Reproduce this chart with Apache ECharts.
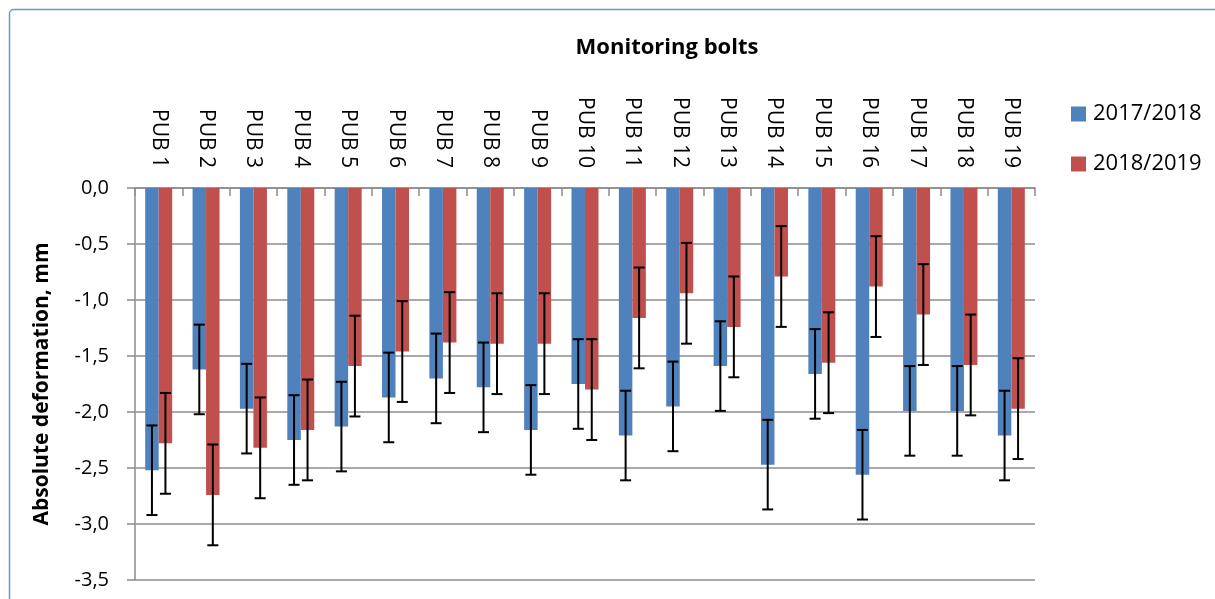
<!DOCTYPE html>
<html>
<head>
<meta charset="utf-8">
<script src="https://cdn.jsdelivr.net/npm/echarts@6/dist/echarts.min.js"></script>
<style>
html,body{margin:0;padding:0;background:#fff;}
#chart{width:1215px;height:599px;}
</style>
</head>
<body>
<div id="chart"></div>
<script>
var categories = ['PUB 1','PUB 2','PUB 3','PUB 4','PUB 5','PUB 6','PUB 7','PUB 8','PUB 9','PUB 10','PUB 11','PUB 12','PUB 13','PUB 14','PUB 15','PUB 16','PUB 17','PUB 18','PUB 19'];
var seriesNames = ['2017/2018', '2018/2019'];
var values2017 = [-2.52, -1.62, -1.97, -2.25, -2.13, -1.87, -1.70, -1.78, -2.16, -1.75, -2.21, -1.95, -1.59, -2.47, -1.66, -2.56, -1.99, -1.99, -2.21];
var values2018 = [-2.28, -2.74, -2.32, -2.16, -1.59, -1.46, -1.38, -1.39, -1.39, -1.80, -1.16, -0.94, -1.24, -0.79, -1.56, -0.88, -1.13, -1.58, -1.97];
var err2017 = [0.40, 0.40, 0.40, 0.40, 0.40, 0.40, 0.40, 0.40, 0.40, 0.40, 0.40, 0.40, 0.40, 0.40, 0.40, 0.40, 0.40, 0.40, 0.40];
var err2018 = [0.45, 0.45, 0.45, 0.45, 0.45, 0.45, 0.45, 0.45, 0.45, 0.45, 0.45, 0.45, 0.45, 0.45, 0.45, 0.45, 0.45, 0.45, 0.45];
var yTicks = {min: -3.5, max: 0, interval: 0.5};

var FONT = '"Open Sans", sans-serif';
var catGap = 0.43;

function errData(vals, errs) {
  return vals.map(function (v, i) { return [i, v - errs[i], v + errs[i]]; });
}
function errRender(side) {
  return function (params, api) {
    var band = api.size([1, 0])[0];
    var bw = band * (1 - catGap) / 2;
    var cx = api.coord([api.value(0), 0])[0] + side * bw / 2;
    var lo = api.coord([api.value(0), api.value(1)])[1];
    var hi = api.coord([api.value(0), api.value(2)])[1];
    var cap = 5.5;
    var st = {stroke: '#000', lineWidth: 2};
    return {
      type: 'group',
      children: [
        {type: 'line', shape: {x1: cx, y1: lo, x2: cx, y2: hi}, style: st},
        {type: 'line', shape: {x1: cx - cap, y1: lo, x2: cx + cap, y2: lo}, style: st},
        {type: 'line', shape: {x1: cx - cap, y1: hi, x2: cx + cap, y2: hi}, style: st}
      ]
    };
  };
}

var chart = echarts.init(document.getElementById('chart'), null, {renderer: 'canvas'});
chart.setOption({
  animation: false,
  backgroundColor: '#fff',
  textStyle: {fontFamily: FONT},
  graphic: [{
    type: 'rect', left: 7, top: 7, silent: true, z: -1,
    shape: {width: 1230, height: 620, r: 4},
    style: {fill: 'none', stroke: '#6f98c9', lineWidth: 1.5}
  }],
  title: {
    text: 'Monitoring bolts',
    left: 662, top: 32, textAlign: 'center',
    textStyle: {fontFamily: FONT, fontSize: 22, fontWeight: 'bold', color: '#000'}
  },
  legend: {
    orient: 'vertical',
    left: 1066, top: 97,
    itemWidth: 15, itemHeight: 15, itemGap: 26,
    icon: 'rect',
    data: seriesNames,
    textStyle: {fontFamily: FONT, fontSize: 22, color: '#000', lineHeight: 24, padding: [0,0,0,2]}
  },
  grid: {left: 135, top: 188, right: 180, bottom: 19, containLabel: false},
  xAxis: {
    type: 'category',
    position: 'top',
    data: categories,
    axisLine: {show: true, onZero: false, lineStyle: {color: '#8c8c8c', width: 1.5}},
    axisTick: {show: true, inside: true, length: 8, lineStyle: {color: '#8c8c8c', width: 1.5}},
    axisLabel: {rotate: 90, margin: 20, interval: 0, fontFamily: FONT, fontSize: 21, color: '#000'},
    splitLine: {show: false}
  },
  yAxis: {
    type: 'value',
    min: yTicks.min, max: yTicks.max, interval: yTicks.interval,
    name: 'Absolute deformation, mm',
    nameLocation: 'middle',
    nameGap: 82,
    nameTextStyle: {fontFamily: FONT, fontSize: 21, fontWeight: 'bold', color: '#000'},
    axisLine: {show: true, lineStyle: {color: '#8c8c8c', width: 1.5}},
    axisTick: {show: true, length: 8, lineStyle: {color: '#8c8c8c', width: 1.5}},
    axisLabel: {
      margin: 26, fontFamily: FONT, fontSize: 20, color: '#000',
      formatter: function (v) { return v.toFixed(1).replace('.', ','); }
    },
    splitLine: {show: true, lineStyle: {color: '#8c8c8c', width: 1.5}}
  },
  series: [
    {name: seriesNames[0], type: 'bar', data: values2017, barGap: '0%', barCategoryGap: (catGap * 100) + '%',
     itemStyle: {color: '#4f81bd'}},
    {name: seriesNames[1], type: 'bar', data: values2018, barGap: '0%', barCategoryGap: (catGap * 100) + '%',
     itemStyle: {color: '#c0504d'}},
    {type: 'custom', renderItem: errRender(-1), data: errData(values2017, err2017),
     encode: {x: 0, y: [1, 2]}, z: 10, silent: true},
    {type: 'custom', renderItem: errRender(1), data: errData(values2018, err2018),
     encode: {x: 0, y: [1, 2]}, z: 10, silent: true}
  ]
});
</script>
</body>
</html>
